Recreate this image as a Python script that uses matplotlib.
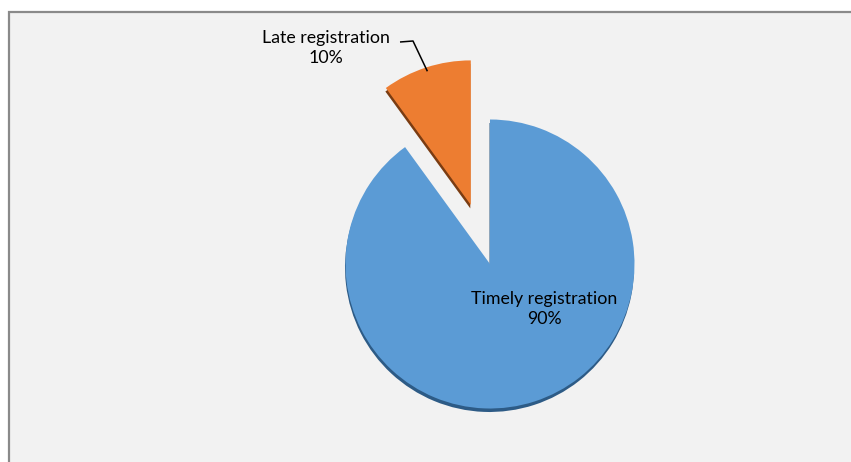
import matplotlib
matplotlib.use("Agg")
import matplotlib.pyplot as plt
import numpy as np
from matplotlib.patches import Rectangle

categories = ["Late registration", "Timely registration"]
values = [10, 90]
colors = ["#ED7D31", "#5B9BD5"]
shadow_colors = ["#7A3C12", "#2D5B86"]
explode_frac = [0.43, 0.0]

W, H = 851, 462
fig = plt.figure(figsize=(W / 100, H / 100), dpi=100)
fig.patch.set_facecolor("white")
ax = fig.add_axes([0, 0, 1, 1])

cx, cy = 490, H - 264
R = 144.5
start = 90
explode = [e * R for e in explode_frac]

# shadow
ax.pie(values, colors=shadow_colors, startangle=start, counterclock=True,
       explode=explode, radius=R, center=(cx - 0.5, cy - 3.5),
       wedgeprops=dict(linewidth=0), frame=True)
# main
wedges, _ = ax.pie(values, colors=colors, startangle=start, counterclock=True,
                   explode=explode, radius=R, center=(cx, cy),
                   wedgeprops=dict(linewidth=0), frame=True)
ax.set_xlim(0, W)
ax.set_ylim(0, H)
ax.set_aspect("equal")
ax.axis("off")

# chart area frame
ax.add_patch(Rectangle((8.5, -20), W + 20, H - 11.5 + 20, facecolor="#F2F2F2",
                       edgecolor="#8A8A8A", linewidth=1.6, zorder=0))

total = sum(values)
fs = 12.8
font = "Lato"

# Late registration label with leader line
ang = np.deg2rad(start + 360 * values[0] / total / 2)
ex = explode[0]
ocx, ocy = cx + ex * np.cos(ang), cy + ex * np.sin(ang)
tx, ty = ocx + (R - 4) * np.cos(ang), ocy + (R - 4) * np.sin(ang)
ax.text(326, H - 48, f"{categories[0]}\n{values[0] / total:.0%}", ha="center",
        va="center", fontsize=fs, family=font, color="#000000", linespacing=1.35)
ax.plot([400, 413, tx], [H - 42, H - 41, ty], color="black", linewidth=1.1,
        solid_capstyle="butt")

# Timely registration label
ax.text(544, H - 309, f"{categories[1]}\n{values[1] / total:.0%}", ha="center",
        va="center", fontsize=fs, family=font, color="#000000", linespacing=1.35)

fig.savefig("out.png", dpi=100, facecolor="white")
